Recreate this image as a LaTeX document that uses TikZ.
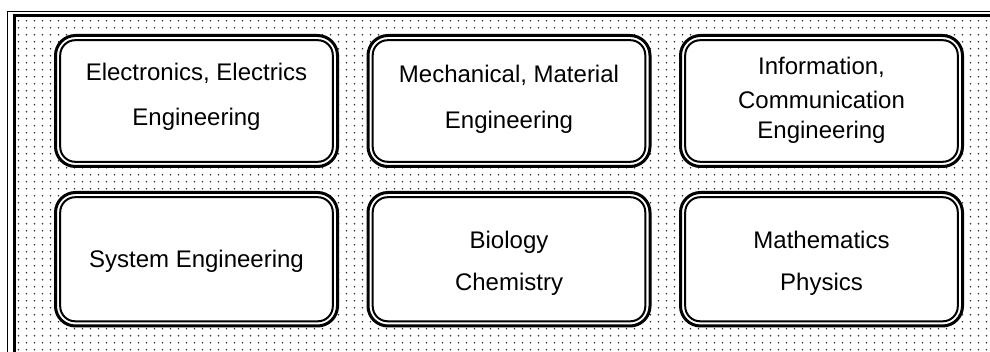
\documentclass[tikz,border=0pt]{standalone}
\usepackage{fontspec}
\setmainfont{Liberation Sans}
\usetikzlibrary{patterns.meta}
\tikzdeclarepattern{
  name=bgdots,
  type=colored,
  bottom left={(0pt,0pt)}, top right={(7.55pt,7.2pt)},
  tile size={(7.55pt,7.2pt)},
  code={\fill[black!80] (3.7pt,3.6pt) circle (1pt);}
}
\tikzset{
  outerbox/.style={draw=black, line width=3pt, fill=white, rounded corners=20pt,
    minimum width=282pt, inner sep=0pt, outer sep=0pt},
  innerbox/.style={draw=black, line width=2pt, rounded corners=15pt,
    minimum width=272.6pt, inner sep=0pt, outer sep=0pt},
  lbl/.style={anchor=base, inner sep=0pt, font=\fontsize{24}{28}\selectfont},
}
\begin{document}
\begin{tikzpicture}[x=1pt,y=-1pt]
\useasboundingbox (0,0) rectangle (990,352);
\clip (0,0) rectangle (990,352);
\fill[white] (0,0) rectangle (990,352);
% frame
\fill[pattern=bgdots] (14.2,15.5) rectangle (1000,362);
\draw[line width=1pt] (7.8,11.2) rectangle (1005,367);
\draw[line width=2.6pt] (14.2,15.5) rectangle (1000,362);
% row 1 boxes
\foreach \n/\cx in {a/196.5,b/509,c/821.5}{
  \node[outerbox, minimum height=131pt] (o\n) at (\cx,101) {};
  \node[innerbox, minimum height=121.6pt] (i\n) at (\cx,101) {};
}
\foreach \n/\cx in {d/196.5,e/509,f/821.5}{
  \node[outerbox, minimum height=133.5pt] (o\n) at (\cx,259.25) {};
  \node[innerbox, minimum height=124.1pt] (i\n) at (\cx,259.25) {};
}
% labels
\node[lbl] (ta1) at (196.5,80.7) {Electronics, Electrics};
\node[lbl] (ta2) at (196.5,126) {Engineering};
\node[lbl] (tb1) at (509,83) {Mechanical, Material};
\node[lbl] (tb2) at (509,128.5) {Engineering};
\node[lbl] (tc1) at (821.5,75) {Information,};
\node[lbl] (tc2) at (821.5,108.3) {Communication};
\node[lbl] (tc3) at (821.5,138.3) {Engineering};
\node[lbl] (td1) at (196.5,268) {System Engineering};
\node[lbl] (te1) at (509,249) {Biology};
\node[lbl] (te2) at (509,291) {Chemistry};
\node[lbl] (tf1) at (821.5,249) {Mathematics};
\node[lbl] (tf2) at (821.5,291) {Physics};
\end{tikzpicture}
\end{document}
